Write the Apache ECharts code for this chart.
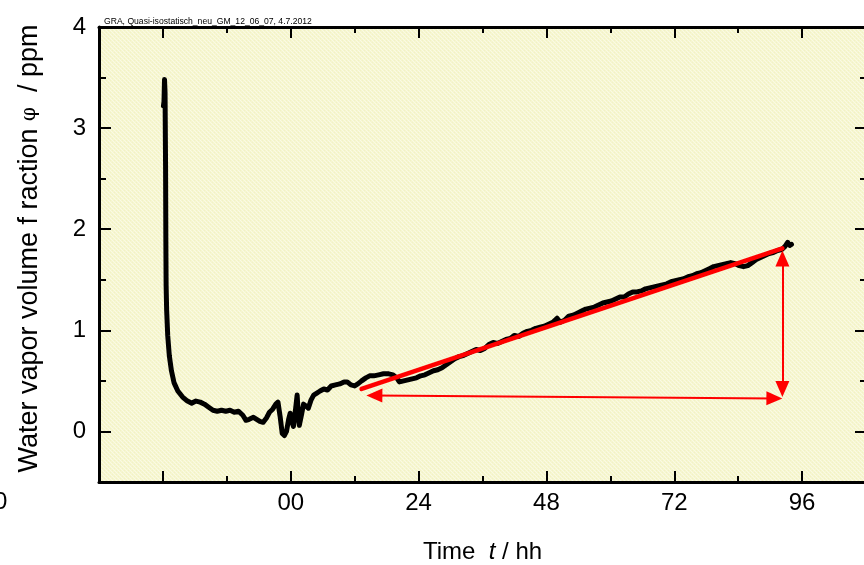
<!DOCTYPE html>
<html>
<head>
<meta charset="utf-8">
<script src="https://cdn.jsdelivr.net/npm/echarts@6/dist/echarts.min.js"></script>
<style>
  html, body { margin: 0; padding: 0; background: #ffffff; }
  #chart { width: 864px; height: 565px; }
</style>
</head>
<body>
<div id="chart"></div>
<script>
// Measured water vapor volume fraction (ppm) versus time (h)
var timeHours = [
  -23.9, -23.8, -23.7, -23.6, -23.5, -23.45, -23.4, -23.3, -23.1, -22.8, -22.4, -21.9, -21.2, -20.3,
  -19.4, -18.6, -17.8, -17.0, -16.2, -15.4, -14.6, -13.8, -13.0, -12.2, -11.4, -10.6, -9.8, -9.0,
  -8.4, -7.8, -7.0, -6.4, -5.8, -5.2, -4.6, -4.0, -3.4, -2.8, -2.4, -2.0, -1.6, -1.2, -0.8, -0.4,
  -0.1, 0.2, 0.5, 0.9, 1.2, 1.4, 1.6, 2.0, 2.4, 2.9, 3.3, 3.8, 4.3, 4.9, 5.5, 6.2, 6.9, 7.6, 8.4,
  9.2, 10.0, 10.6, 11.3, 12.0, 12.6, 13.3, 14.1, 14.8, 15.6, 16.5, 17.4, 18.4, 19.2, 19.9, 20.4,
  21.2, 22.0, 22.8, 23.6, 24.4, 25.2, 26.0, 26.8, 27.6, 28.4, 29.2, 30.0, 30.8, 31.6, 32.4, 33.2,
  34.0, 34.8, 35.6, 36.4, 37.2, 38.0, 38.8, 39.6, 40.4, 41.2, 42.0, 42.8, 43.6, 44.4, 45.2, 46.0,
  46.8, 47.6, 48.4, 49.2, 50.0, 50.6, 51.4, 52.2, 53.0, 53.8, 54.6, 55.4, 56.2, 57.0, 57.8, 58.6,
  59.4, 60.2, 61.0, 61.8, 62.6, 63.4, 64.2, 65.0, 65.8, 66.6, 67.4, 68.2, 69.0, 69.8, 70.6, 71.4,
  72.2, 73.0, 73.8, 74.6, 75.4, 76.2, 77.0, 77.8, 78.6, 79.4, 80.2, 81.0, 81.8, 82.6, 83.4, 84.2,
  85.0, 85.8, 86.6, 87.4, 88.2, 89.0, 89.8, 90.6, 91.4, 92.2, 92.8, 93.3, 93.7, 94.0
];
var vaporPpm = [
  3.22, 3.26, 3.48, 3.35, 2.6, 1.9, 1.45, 1.2, 0.95, 0.75, 0.6, 0.48, 0.40, 0.34,
  0.30, 0.28, 0.30, 0.29, 0.27, 0.24, 0.21, 0.20, 0.21, 0.20, 0.21, 0.19, 0.20, 0.16,
  0.11, 0.12, 0.14, 0.12, 0.10, 0.09, 0.13, 0.19, 0.22, 0.27, 0.29, 0.15, -0.02, -0.04, 0.0, 0.12,
  0.18, 0.10, 0.05, 0.22, 0.36, 0.18, 0.06, 0.16, 0.27, 0.25, 0.23, 0.31, 0.36, 0.38, 0.40, 0.42, 0.41, 0.45, 0.46,
  0.47, 0.49, 0.49, 0.46, 0.45, 0.47, 0.50, 0.53, 0.55, 0.55, 0.56, 0.57, 0.57, 0.56, 0.53, 0.49,
  0.50, 0.51, 0.52, 0.53, 0.55, 0.56, 0.58, 0.60, 0.61, 0.63, 0.66, 0.69, 0.72, 0.74, 0.75, 0.77,
  0.79, 0.81, 0.80, 0.82, 0.86, 0.88, 0.87, 0.89, 0.91, 0.92, 0.95, 0.94, 0.97, 0.99, 1.00, 1.02,
  1.03, 1.04, 1.06, 1.08, 1.12, 1.08, 1.10, 1.14, 1.15, 1.17, 1.19, 1.21, 1.22, 1.23, 1.25, 1.27,
  1.28, 1.29, 1.31, 1.33, 1.33, 1.36, 1.38, 1.38, 1.39, 1.41, 1.42, 1.43, 1.44, 1.45, 1.46, 1.48,
  1.49, 1.50, 1.51, 1.53, 1.54, 1.56, 1.57, 1.59, 1.61, 1.63, 1.64, 1.65, 1.66, 1.67, 1.66, 1.64,
  1.63, 1.64, 1.67, 1.70, 1.72, 1.74, 1.76, 1.77, 1.79, 1.80, 1.83, 1.87, 1.84, 1.85
];

// Linear trend over the rising part: [time, ppm] at both ends
var trendStart = [13.3, 0.42];
var trendEnd = [92.3, 1.81];

// Double-headed arrows (centres of the arrow heads)
var spanArrowH = [[15.7, 0.356], [90.8, 0.327]];
var spanArrowV = [[92.3, 0.42], [92.3, 1.71]];

// Axis ticks and labels
var xMajorTicks = [-24, 0, 24, 48, 72, 96];
var xMinorTicks = [-12, 12, 36, 60, 84];
var xTickLabels = { '0': '00', '24': '24', '48': '48', '72': '72', '96': '96' };
var xLabelValues = [0, 24, 48, 72, 96];
var yMajorTicks = [0, 1, 2, 3, 4];
var yMinorTicks = [0.5, 1.5, 2.5, 3.5];

var curve = timeHours.map(function (t, i) { return [t, vaporPpm[i]]; });

// Fine cross-hatched paper texture for the plot area
function makePaper() {
  var c = document.createElement('canvas');
  c.width = 4; c.height = 4;
  var g = c.getContext('2d');
  g.fillStyle = '#f6f6d0';
  g.fillRect(0, 0, 4, 4);
  g.fillStyle = '#fafae4';
  g.fillRect(0, 0, 1, 1); g.fillRect(2, 2, 1, 1);
  g.fillRect(1, 1, 1, 1); g.fillRect(3, 3, 1, 1);
  g.fillStyle = '#f2f2c4';
  g.fillRect(2, 0, 1, 1); g.fillRect(0, 2, 1, 1);
  return c;
}

var fontFam = '"Liberation Sans", Arial, sans-serif';
var X_MIN = -36, X_MAX = 108, Y_MIN = -0.5, Y_MAX = 4;

function xAxisDef(position, ticks, len, withLine, withLabels) {
  return {
    type: 'value', position: position, min: X_MIN, max: X_MAX, interval: 12,
    splitLine: { show: false },
    axisLine: { show: withLine, onZero: false, lineStyle: { color: '#000', width: 3 } },
    axisTick: { show: true, inside: true, length: len, customValues: ticks, lineStyle: { color: '#000', width: 2 } },
    axisLabel: withLabels ? {
      show: true, customValues: xLabelValues, margin: 9, color: '#000',
      fontSize: 24, fontFamily: fontFam,
      formatter: function (v) { return xTickLabels[String(v)] || ''; }
    } : { show: false }
  };
}
function yAxisDef(position, ticks, len, withLine, withLabels) {
  return {
    type: 'value', position: position, min: Y_MIN, max: Y_MAX, interval: 0.5,
    splitLine: { show: false },
    axisLine: { show: withLine, onZero: false, lineStyle: { color: '#000', width: 3 } },
    axisTick: { show: true, inside: true, length: len, customValues: ticks, lineStyle: { color: '#000', width: 2 } },
    axisLabel: withLabels ? {
      show: true, customValues: yMajorTicks, margin: 13, color: '#000',
      fontSize: 24, fontFamily: fontFam
    } : { show: false }
  };
}

var xAxes = [
  xAxisDef('bottom', xMajorTicks, 11, true, true),
  xAxisDef('bottom', xMinorTicks, 6, false, false),
  xAxisDef('top', xMajorTicks, 11, true, false),
  xAxisDef('top', xMinorTicks, 6, false, false)
];
xAxes[0].name = 'Time  {it|t} / hh';
xAxes[0].nameLocation = 'middle';
xAxes[0].nameGap = 58;
xAxes[0].nameTextStyle = {
  color: '#000', fontSize: 24, fontFamily: fontFam,
  rich: { it: { fontStyle: 'italic', fontSize: 24, fontFamily: fontFam, color: '#000' } }
};

var yAxes = [
  yAxisDef('left', yMajorTicks, 12, true, true),
  yAxisDef('left', yMinorTicks, 7, false, false),
  yAxisDef('right', yMajorTicks, 11, true, false),
  yAxisDef('right', yMinorTicks, 6, false, false)
];
yAxes[0].name = 'Water vapor volume f raction {phi|φ}  / ppm';
yAxes[0].nameLocation = 'middle';
yAxes[0].nameGap = 56;
yAxes[0].nameTextStyle = {
  color: '#000', fontSize: 27, fontFamily: fontFam,
  padding: [0, 0, 0, 12],
  rich: { phi: { fontSize: 20, fontFamily: '"DejaVu Serif", serif', color: '#000' } }
};

var chart = echarts.init(document.getElementById('chart'), null, { renderer: 'canvas' });
chart.setOption({
  animation: false,
  backgroundColor: '#ffffff',
  title: {
    text: 'GRA, Quasi-isostatisch_neu_GM_12_06_07, 4.7.2012',
    left: 99, top: 12,
    textStyle: { fontSize: 8.6, fontWeight: 'normal', color: '#000', fontFamily: fontFam }
  },
  grid: {
    left: 99, right: -2, top: 27, bottom: 83,
    outerBoundsMode: 'none',
    containLabel: false,
    show: true, borderWidth: 0,
    backgroundColor: { image: makePaper(), repeat: 'repeat' }
  },
  xAxis: xAxes,
  yAxis: yAxes,
  graphic: [{
    type: 'text', left: -6, top: 490,
    style: { text: '0', fontSize: 24, fontFamily: fontFam, fill: '#000' }
  }],
  series: [
    {
      name: 'measurement', type: 'line', data: curve,
      showSymbol: false, symbol: 'none', smooth: false,
      lineStyle: { color: '#000', width: 5, join: 'round', cap: 'round' },
      z: 2
    },
    {
      name: 'trend', type: 'line', data: [trendStart, trendEnd],
      showSymbol: false, symbol: 'none',
      lineStyle: { color: '#ff0000', width: 4.5, cap: 'round' },
      z: 3,
      markLine: {
        silent: true, animation: false,
        symbol: ['triangle', 'triangle'], symbolSize: [14, 16],
        label: { show: false },
        lineStyle: { color: '#ff0000', width: 2, type: 'solid' },
        data: [
          [{ coord: spanArrowH[0] }, { coord: spanArrowH[1] }],
          [{ coord: spanArrowV[0] }, { coord: spanArrowV[1] }]
        ]
      }
    }
  ]
});
</script>
</body>
</html>
